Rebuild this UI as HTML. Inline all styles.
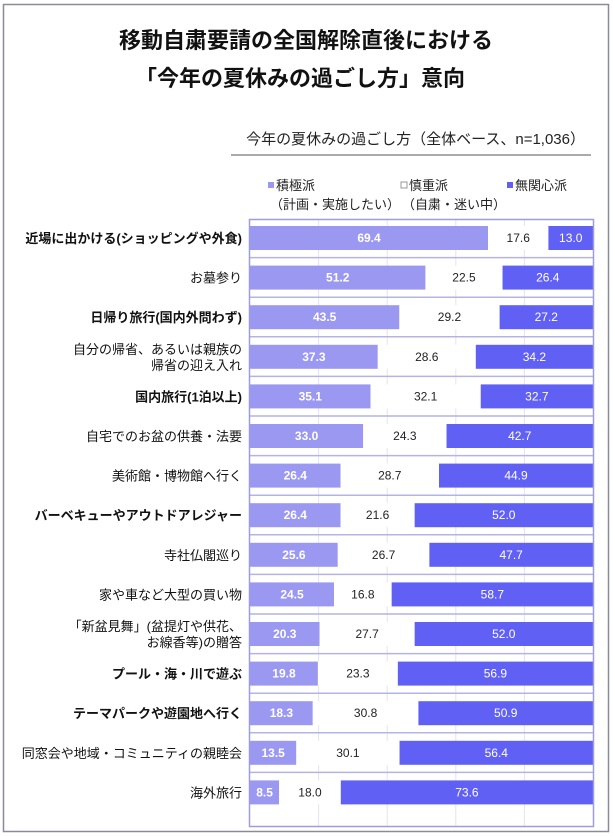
<!DOCTYPE html>
<html><head><meta charset="utf-8"><style>
body{margin:0;background:#fff;}
svg{display:block;font-family:"Liberation Sans","Noto Sans CJK JP",sans-serif;}
</style></head><body>
<svg width="613" height="836" xmlns="http://www.w3.org/2000/svg">
<rect x="3.5" y="4.5" width="605" height="827" fill="#fff" stroke="#8a8a99" stroke-width="1.5"/>
<text x="306" y="48" font-size="22" font-weight="bold" text-anchor="middle" fill="#111">移動自粛要請の全国解除直後における</text>
<text x="300" y="86" font-size="22" font-weight="bold" text-anchor="middle" fill="#111">「今年の夏休みの過ごし方」意向</text>
<text x="585" y="144" font-size="15" text-anchor="end" fill="#222">今年の夏休みの過ごし方（全体ベース、n=1,036）</text>
<line x1="231" y1="155" x2="591" y2="155" stroke="#555" stroke-width="1"/>
<g font-size="13" fill="#222">
<rect x="268" y="182" width="6" height="6" fill="#9b98f2"/><text x="276" y="190">積極派</text>
<text x="270" y="209">（計画・実施したい）</text>
<rect x="401" y="182" width="6" height="6" fill="#fff" stroke="#999"/><text x="409" y="190">慎重派</text>
<text x="402" y="209">（自粛・迷い中）</text>
<rect x="507" y="182" width="6" height="6" fill="#6060f5"/><text x="515" y="190">無関心派</text>
</g>
<g id="plot"></g>
<rect x="249.5" y="219.5" width="344" height="607" fill="none" stroke="#9c9ce0" stroke-width="1.5"/>
</svg>
<script>
var d=[["近場に出かける(ショッピングや外食)",69.4,17.6,13.0,1],["お墓参り",51.2,22.5,26.4,0],["日帰り旅行(国内外問わず)",43.5,29.2,27.2,1],["自分の帰省、あるいは親族の|帰省の迎え入れ",37.3,28.6,34.2,0],["国内旅行(1泊以上)",35.1,32.1,32.7,1],["自宅でのお盆の供養・法要",33.0,24.3,42.7,0],["美術館・博物館へ行く",26.4,28.7,44.9,0],["バーベキューやアウトドアレジャー",26.4,21.6,52.0,1],["寺社仏閣巡り",25.6,26.7,47.7,0],["家や車など大型の買い物",24.5,16.8,58.7,0],["「新盆見舞」(盆提灯や供花、|お線香等)の贈答",20.3,27.7,52.0,0],["プール・海・川で遊ぶ",19.8,23.3,56.9,1],["テーマパークや遊園地へ行く",18.3,30.8,50.9,1],["同窓会や地域・コミュニティの親睦会",13.5,30.1,56.4,0],["海外旅行",8.5,18.0,73.6,0]];
var ns="http://www.w3.org/2000/svg",g=document.getElementById("plot");
function el(t,a,txt){var e=document.createElementNS(ns,t);for(var k in a)e.setAttribute(k,a[k]);if(txt!=null)e.textContent=txt;g.appendChild(e);return e;}
var X0=250,W=343;
for(var i=1;i<5;i++)el("line",{x1:X0+W*i/5,y1:220,x2:X0+W*i/5,y2:826,stroke:"#e4e4ee","stroke-width":1});
d.forEach(function(r,i){
 var cy=238+i*39.6,y=cy-12;
 if(i>0)el("line",{x1:250,y1:cy-20,x2:593,y2:cy-20,stroke:"#b4b4e4","stroke-width":1.5});
 var tot=r[1]+r[2]+r[3],x=X0;
 var cols=["#9b98f2","#ffffff","#6060f5"],tc=["#fff","#222","#fff"];
 for(var k=0;k<3;k++){var w=W*r[k+1]/tot;el("rect",{x:x,y:y,width:w,height:24,fill:cols[k]});
  el("text",{x:x+w/2,y:cy+4,"font-size":12,"text-anchor":"middle",fill:tc[k],"font-weight":k==0?"bold":"normal"},r[k+1].toFixed(1));x+=w;}
 var L=r[0].split("|");
 if(L.length==1)el("text",{x:242,y:cy+5,"font-size":13,"text-anchor":"end",fill:"#111","font-weight":r[4]?"bold":"normal"},L[0]);
 else{el("text",{x:242,y:cy-3,"font-size":13,"text-anchor":"end",fill:"#111"},L[0]);el("text",{x:242,y:cy+13,"font-size":13,"text-anchor":"end",fill:"#111"},L[1]);}
});
</script>
</body></html>
